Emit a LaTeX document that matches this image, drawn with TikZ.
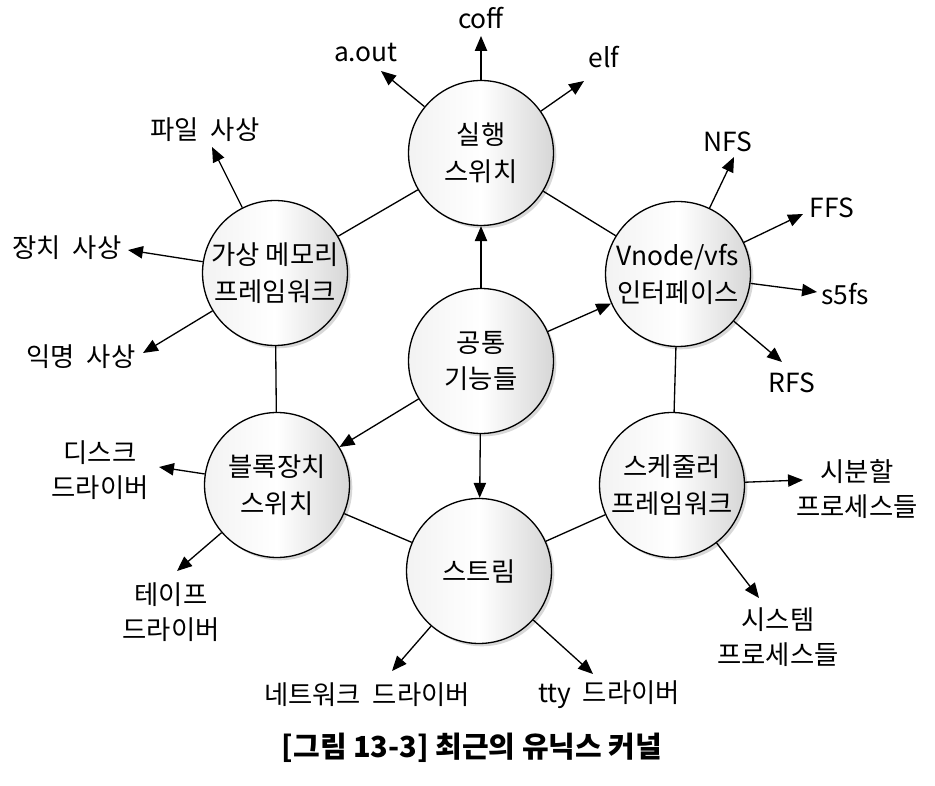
\documentclass[tikz,border=0pt]{standalone}
\usepackage{fontspec}
\setmainfont{Noto Sans CJK KR}
\usetikzlibrary{arrows.meta, shadows}
\tikzset{
    module/.style = {draw, circle, minimum size=2.9cm, inner sep=0pt, align=center,
        left color=gray!10, right color=gray!32, middle color=white,
        drop shadow={shadow xshift=1.6pt, shadow yshift=-1.6pt, fill=gray!60, opacity=0.5},
        font=\fontsize{15}{21}\selectfont},
    item/.style = {align=center, inner sep=0pt, font=\fontsize{15}{20}\selectfont},
    >={Triangle[length=8.5pt, width=7pt]}
}

\begin{document}
\begin{tikzpicture}[x=0.02cm, y=-0.02cm, line width=0.75pt]
        \useasboundingbox (0, 0) rectangle (935, 786);
        % the seven modules
        \node[module] (exec) at (481, 153) {실행\\스위치};
        \node[module] (vm) at (275, 273) {가상 메모리\\프레임워크};
        \node[module] (vnode) at (678, 274) {Vnode/vfs\\인터페이스};
        \node[module] (common) at (481, 361) {공통\\기능들};
        \node[module] (block) at (277, 485) {블록장치\\스위치};
        \node[module] (sched) at (672, 485) {스케줄러\\프레임워크};
        \node[module] (stream) at (479, 571) {스트림};
        % ring
        \path[draw] (exec) -- (vm) -- (block) -- (stream) -- (sched) -- (vnode) -- (exec);
        % from the common part
        \path[draw, ->] (common) -- (exec);
        \path[draw, ->] (common) -- (vnode);
        \path[draw, ->] (common) -- (block);
        \path[draw, ->] (common) -- (stream);
        % exec formats
        \node[item] (coff) at (481, 18) {coff};
        \node[item] (aout) at (366, 53) {a.out};
        \node[item] (elf) at (604, 57) {elf};
        \coordinate (coff-t) at (481, 36);
        \coordinate (aout-t) at (381, 71);
        \coordinate (elf-t) at (584, 81);
        \path[draw, ->] (exec) -- (coff-t);
        \path[draw, ->] (exec) -- (aout-t);
        \path[draw, ->] (exec) -- (elf-t);
        % memory mappings
        \node[item] (file) at (205, 130) {파일\ \ 사상};
        \node[item] (dev) at (67, 248) {장치\ \ 사상};
        \node[item] (anon) at (81, 357) {익명\ \ 사상};
        \coordinate (file-t) at (212, 147);
        \coordinate (dev-t) at (128, 250);
        \coordinate (anon-t) at (143, 353);
        \path[draw, ->] (vm) -- (file-t);
        \path[draw, ->] (vm) -- (dev-t);
        \path[draw, ->] (vm) -- (anon-t);
        % file systems
        \node[item] (nfs) at (728, 142) {NFS};
        \node[item] (ffs) at (832, 208) {FFS};
        \node[item] (s5fs) at (845, 294) {s5fs};
        \node[item] (rfs) at (792, 383) {RFS};
        \coordinate (nfs-t) at (734, 157);
        \coordinate (ffs-t) at (803, 214);
        \coordinate (s5fs-t) at (817, 292);
        \coordinate (rfs-t) at (782, 362);
        \path[draw, ->] (vnode) -- (nfs-t);
        \path[draw, ->] (vnode) -- (ffs-t);
        \path[draw, ->] (vnode) -- (s5fs-t);
        \path[draw, ->] (vnode) -- (rfs-t);
        % block drivers
        \node[item] (disk) at (100, 470) {디스크\\드라이버};
        \node[item] (tape) at (171, 612) {테이프\\드라이버};
        \coordinate (disk-t) at (159, 467);
        \coordinate (tape-t) at (177, 571);
        \path[draw, ->] (block) -- (disk-t);
        \path[draw, ->] (block) -- (tape-t);
        % stream drivers
        \node[item] (net) at (367, 695) {네트워크\ \ 드라이버};
        \node[item] (tty) at (609, 695) {tty\ \ 드라이버};
        \coordinate (net-t) at (392, 671);
        \coordinate (tty-t) at (593, 674);
        \path[draw, ->] (stream) -- (net-t);
        \path[draw, ->] (stream) -- (tty-t);
        % process classes
        \node[item] (ts) at (857, 489) {시분할\\프로세스들};
        \node[item] (sys) at (778, 637) {시스템\\프로세스들};
        \coordinate (ts-t) at (803, 480);
        \coordinate (sys-t) at (759, 598);
        \path[draw, ->] (sched) -- (ts-t);
        \path[draw, ->] (sched) -- (sys-t);
        % caption
        \node[font=\bfseries\fontsize{16.5}{18}\selectfont] (title) at (472, 748) {[그림 13-3] 최근의 유닉스 커널};
\end{tikzpicture}
\end{document}
